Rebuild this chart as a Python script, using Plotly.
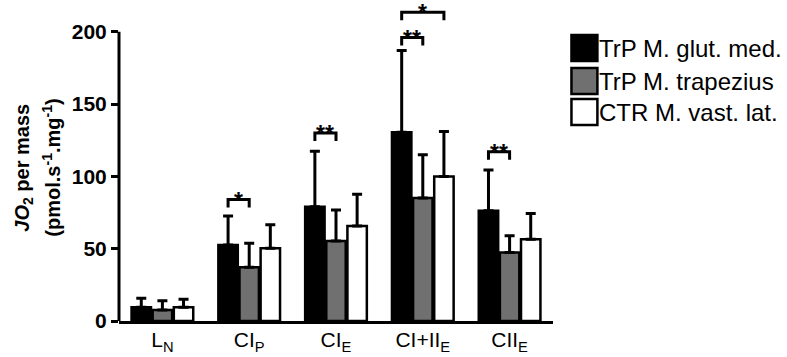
import plotly.graph_objects as go

# ---------------- data ----------------
categories = ["L<sub>N</sub>", "CI<sub>P</sub>", "CI<sub>E</sub>", "CI+II<sub>E</sub>", "CII<sub>E</sub>"]
series_names = ["TrP M. glut. med.", "TrP M. trapezius", "CTR M. vast. lat."]
mean_glut = [9.5, 52.6, 79.1, 130.6, 76.3]
sd_glut = [6.2, 20.1, 38.3, 56.4, 28.2]
mean_trap = [7.6, 37.2, 55.4, 85.1, 47.3]
sd_trap = [6.4, 16.6, 21.4, 29.8, 11.7]
mean_vast = [9.5, 50.3, 65.7, 99.9, 56.5]
sd_vast = [5.5, 16.3, 22.0, 31.1, 17.8]
y_tick_vals = [0, 50, 100, 150, 200]
# significance brackets: (category index, first series, second series, height, label)
sig_cat = [1, 2, 3, 3, 4]
sig_from = [0, 0, 0, 0, 0]
sig_to = [1, 1, 1, 2, 1]
sig_height = [84, 130, 196, 213.5, 117]
sig_label = ["*", "**", "**", "*", "**"]

# ---------------- style ----------------
colors = ["#000000", "#707070", "#ffffff"]
FONT = "Liberation Sans, Arial, sans-serif"
BARGAP = 0.27
slot = (1 - BARGAP) / 3

W, H = 787, 357
L, R_EDGE, B, T = 118.5, 553.5, 36, 0
YMAX = 222

fig = go.Figure()
means = [mean_glut, mean_trap, mean_vast]
sds = [sd_glut, sd_trap, sd_vast]
for name, m, s, c in zip(series_names, means, sds, colors):
    fig.add_trace(go.Bar(
        x=categories, y=m, name=name,
        marker=dict(color=c, line=dict(color="black", width=2.5)),
        error_y=dict(type="data", array=s, arrayminus=[0] * len(s), symmetric=False,
                     color="black", thickness=3, width=5),
        showlegend=False, hoverinfo="skip",
    ))

shapes = []
annotations = []
# y axis line only up to 200
shapes.append(dict(type="line", xref="paper", yref="y", x0=0, x1=0, y0=0, y1=200,
                   line=dict(color="black", width=3)))

drop = 5.5
for ci, a, b, h, lab in zip(sig_cat, sig_from, sig_to, sig_height, sig_label):
    xa = ci + (a - 1) * slot
    xb = ci + (b - 1) * slot
    shapes.append(dict(type="path", xref="x", yref="y",
                       path=f"M {xa},{h - drop} L {xa},{h} L {xb},{h} L {xb},{h - drop}",
                       line=dict(color="black", width=3)))
    annotations.append(dict(x=(xa + xb) / 2, y=h, xref="x", yref="y", text=f"<b>{lab}</b>",
                            showarrow=False, yanchor="middle", yshift=-1,
                            font=dict(family=FONT, size=23, color="black")))

# custom legend
pw = R_EDGE - L
ph = H - B - T
def px(xp):
    return (xp - L) / pw
def py(yp):
    return (H - B - yp) / ph

row_centers = [48, 81, 112]
for name, c, yc in zip(series_names, colors, row_centers):
    shapes.append(dict(type="rect", xref="paper", yref="paper",
                       x0=px(572), x1=px(598), y0=py(yc + 13), y1=py(yc - 13),
                       fillcolor=c, line=dict(color="black", width=2.5)))
    annotations.append(dict(x=px(598), y=py(yc), xref="paper", yref="paper", text=name,
                            showarrow=False, xanchor="left", yanchor="middle",
                            font=dict(family=FONT, size=24, color="black")))

# y axis title
annotations.append(dict(x=px(22), y=py(168), xref="paper", yref="paper",
                        text="<b><i>JO</i><sub>2</sub> per mass</b>", textangle=-90,
                        showarrow=False, xanchor="center", yanchor="middle",
                        font=dict(family=FONT, size=20, color="black")))
annotations.append(dict(x=px(50), y=py(168), xref="paper", yref="paper",
                        text="<b>(pmol.s<sup>-1</sup>.mg<sup>-1</sup>)</b>", textangle=-90,
                        showarrow=False, xanchor="center", yanchor="middle",
                        font=dict(family=FONT, size=20, color="black")))

fig.update_layout(
    width=W, height=H,
    margin=dict(l=L, r=W - R_EDGE, t=T, b=B, pad=0),
    paper_bgcolor="white", plot_bgcolor="white",
    barmode="group", bargap=BARGAP, bargroupgap=0.08,
    shapes=shapes, annotations=annotations,
    xaxis=dict(showline=True, linecolor="black", linewidth=3, ticks="", showgrid=False,
               zeroline=False, tickfont=dict(family=FONT, size=21, color="black"),
               range=[-0.5, 4.5], ticklabelstandoff=-2),
    yaxis=dict(range=[0, YMAX], tickvals=y_tick_vals, ticks="outside", ticklen=7, tickwidth=3,
               tickcolor="black", showline=False, showgrid=False, zeroline=False,
               tickfont=dict(family=FONT, size=21, color="black", weight="bold")),
)

fig.write_html("out.html", config={"displayModeBar": False},
               post_script="document.body.style.margin='0';")
